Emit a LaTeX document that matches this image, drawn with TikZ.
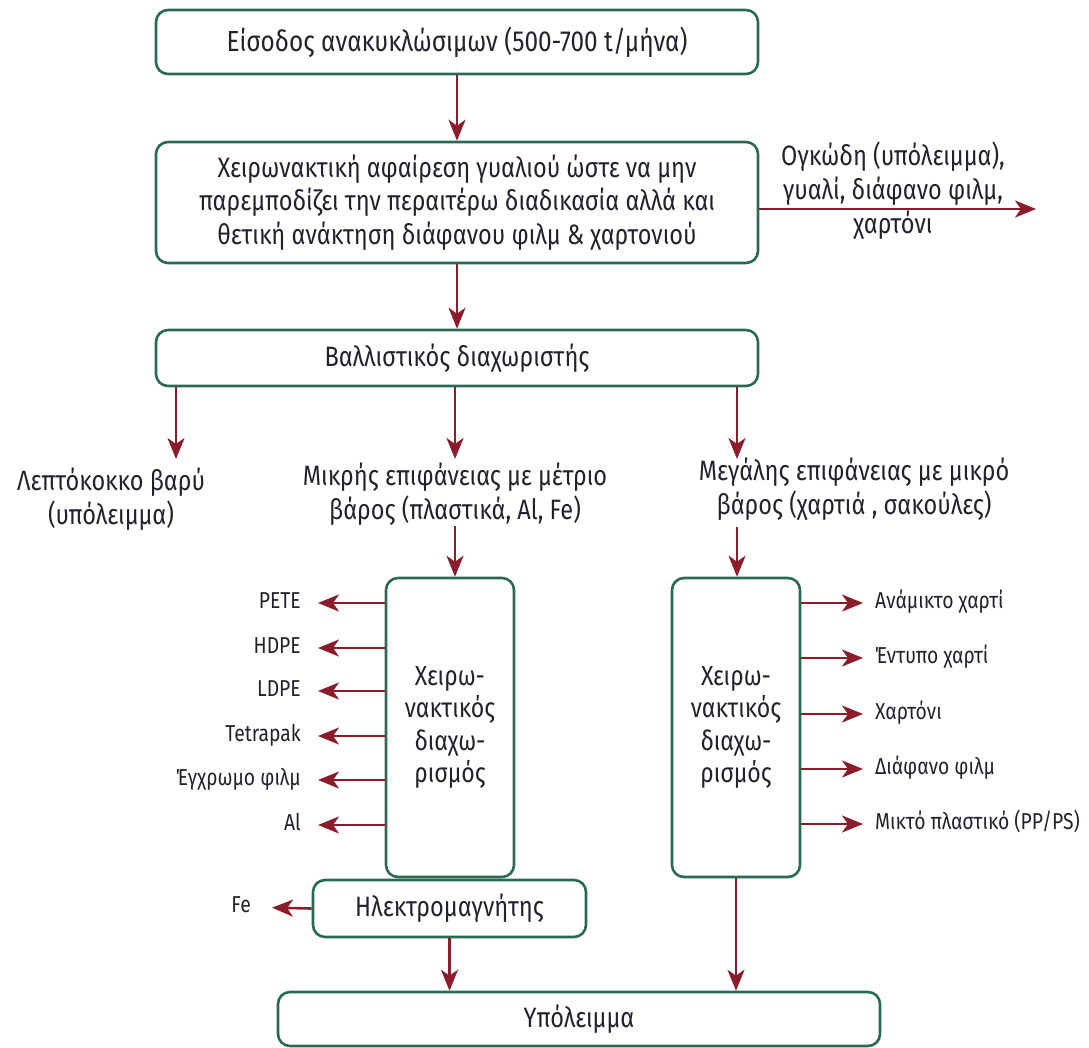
\documentclass[tikz,border=0pt]{standalone}
\usepackage{fontspec}
\setmainfont{Fira Sans}[FakeStretch=0.84]
\usetikzlibrary{arrows.meta}
\definecolor{boxgreen}{HTML}{2A6B50}
\definecolor{flowred}{HTML}{8A1C2C}
\definecolor{ink}{HTML}{22222E}

\begin{document}
\begin{tikzpicture}[x=1pt,y=-1pt,
  stage/.style={draw=boxgreen, line width=2.6pt, rounded corners=12pt, fill=white,
    text=ink, align=center, inner sep=0pt, font=\fontsize{28}{33.5}\selectfont},
  sortbox/.style={stage, minimum width=128pt, minimum height=299pt,
    font=\fontsize{27.5}{32.5}\selectfont},
  flow/.style={draw=flowred, line width=2.6pt,
    -{Stealth[length=21pt,width=17pt,inset=6pt]}},
  outlbl/.style={text=ink, font=\fontsize{28}{34}\selectfont, align=center, inner sep=0pt},
  item/.style={text=ink, font=\fontsize{23}{26}\selectfont,
    text height=16pt, text depth=4.5pt, inner sep=0pt},
]
\useasboundingbox (0,0) rectangle (1089,1047);

% process stages
\node[stage, minimum width=602pt, minimum height=64pt, font=\fontsize{29}{34}\selectfont] (in) at (457,42)
  {Είσοδος ανακυκλώσιμων (500-700 t/μήνα)};
\node[stage, minimum width=602pt, minimum height=121pt] (hand) at (457,202.5)
  {Χειρωνακτική αφαίρεση γυαλιού ώστε να μην\\
   παρεμποδίζει την περαιτέρω διαδικασία αλλά και\\
   θετική ανάκτηση διάφανου φιλμ \& χαρτονιού};
\node[stage, minimum width=602pt, minimum height=56pt] (ball) at (457,358)
  {Βαλλιστικός διαχωριστής};
\node[sortbox] (sortL) at (450,727.5) {Χειρω-\\νακτικός\\διαχω-\\ρισμός};
\node[sortbox] (sortR) at (736,727.5) {Χειρω-\\νακτικός\\διαχω-\\ρισμός};
\node[stage, minimum width=273pt, minimum height=57pt] (mag) at (449.5,908.5)
  {Ηλεκτρομαγνήτης};
\node[stage, minimum width=602pt, minimum height=54pt] (rest) at (579,1019)
  {Υπόλειμμα};

% fractions from the ballistic separator
\node[outlbl] (heavy) at (111,499) {Λεπτόκοκκο βαρύ\\(υπόλειμμα)};
\node[outlbl] (small) at (455,494) {Μικρής επιφάνειας με μέτριο\\βάρος (πλαστικά, Al, Fe)};
\node[outlbl] (large) at (854,489) {Μεγάλης επιφάνειας με μικρό\\βάρος (χαρτιά , σακούλες)};
\node[outlbl] (bulky) at (893,191) {Ογκώδη (υπόλειμμα),\\γυαλί, διάφανο φιλμ,\\χαρτόνι};

\coordinate (heavyIn) at (176,459);
\coordinate (smallIn) at (455,459);
\coordinate (largeIn) at (737,459);
\coordinate (largeOut) at (737,527);
\coordinate (bulkyOut) at (1036,209);

% sorted materials, left line
\foreach \name/\txt/\y in {pete/PETE/603, hdpe/HDPE/648, ldpe/LDPE/691,
    tetra/Tetrapak/736, colfilm/Έγχρωμο φιλμ/780, alu/Al/825}
  \node[item, anchor=east, inner xsep=17pt] (\name) at (318,\y) {\txt};
\node[item, anchor=east, inner xsep=21pt] (fe) at (272,907) {Fe};

% sorted materials, right line
\foreach \name/\txt/\y in {mixpaper/Ανάμικτο χαρτί/603, print/Έντυπο χαρτί/658,
    board/Χαρτόνι/714, clearfilm/Διάφανο φιλμ/769, mixplast/{Μικτό πλαστικό (PP/PS)}/824}
  \node[item, anchor=west, inner xsep=12pt] (\name) at (863,\y) {\txt};

% main flow
\draw[flow] (in) -- (in |- hand.north);
\draw[flow] (hand) -- (hand |- ball.north);
\draw[flow] (hand.east |- bulkyOut) -- (bulkyOut);
\draw[flow] (ball.south -| heavyIn) -- (heavyIn);
\draw[flow] (ball.south -| smallIn) -- (smallIn);
\draw[flow] (ball.south -| largeIn) -- (largeIn);
\draw[flow] (small.south -| smallIn) -- (smallIn |- sortL.north);
\draw[flow] (largeOut) -- (largeOut |- sortR.north);

\foreach \name in {pete, hdpe, ldpe, tetra, colfilm, alu}
  \draw[flow] (sortL.west |- \name) -- (\name);
\draw[flow] (mag.west) -- (fe);
\foreach \name in {mixpaper, print, board, clearfilm, mixplast}
  \draw[flow] (sortR.east |- \name) -- (\name);

\draw[flow] (mag.south) -- (mag.south |- rest.north);
\draw[flow] (sortR.south) -- (sortR.south |- rest.north);
\end{tikzpicture}
\end{document}
